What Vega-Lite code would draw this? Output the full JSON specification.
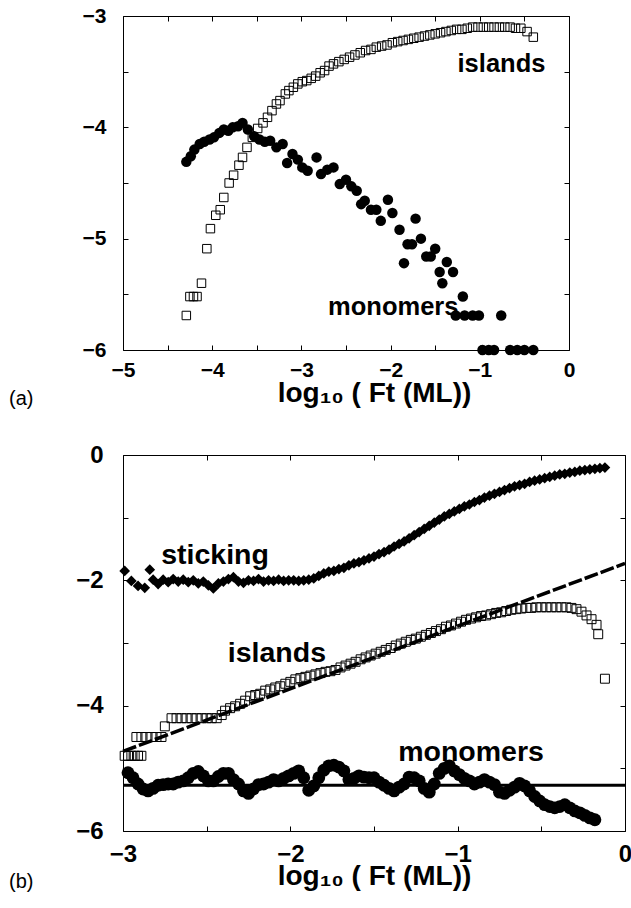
{
  "$schema": "https://vega.github.io/schema/vega-lite/v6.json",
  "background": "white",
  "padding": {"left": 8, "top": 4, "right": 0, "bottom": 0},
  "bounds": "flush",
  "spacing": 105,
  "config": {
    "view": {"stroke": "black", "strokeWidth": 1},
    "font": "Liberation Sans",
    "axis": {"domain": false, "grid": false, "labelFont": "Liberation Sans", "labelFontWeight": "bold", "labelColor": "black", "tickColor": "black", "tickSize": -5, "tickWidth": 1, "titleFont": "Liberation Sans", "titleFontWeight": "bold", "titleColor": "black", "labelFlush": false, "labelOverlap": false, "format": "d"}
  },
  "datasets": {
    "a_islands": [
      {"x": -4.29, "y": -5.69}, {"x": -4.25, "y": -5.52}, {"x": -4.21, "y": -5.52}, {"x": -4.17, "y": -5.52}, {"x": -4.12, "y": -5.40},
      {"x": -4.06, "y": -5.09}, {"x": -4.02, "y": -4.91}, {"x": -3.96, "y": -4.79}, {"x": -3.91, "y": -4.74}, {"x": -3.87, "y": -4.63},
      {"x": -3.81, "y": -4.50}, {"x": -3.76, "y": -4.43}, {"x": -3.70, "y": -4.34}, {"x": -3.66, "y": -4.27}, {"x": -3.61, "y": -4.18},
      {"x": -3.55, "y": -4.09}, {"x": -3.49, "y": -4.01}, {"x": -3.43, "y": -3.96}, {"x": -3.38, "y": -3.91}, {"x": -3.33, "y": -3.85},
      {"x": -3.28, "y": -3.79}, {"x": -3.24, "y": -3.76}, {"x": -3.18, "y": -3.70}, {"x": -3.14, "y": -3.67}, {"x": -3.09, "y": -3.64},
      {"x": -3.04, "y": -3.61}, {"x": -2.99, "y": -3.59}, {"x": -2.94, "y": -3.58}, {"x": -2.89, "y": -3.56}, {"x": -2.84, "y": -3.54},
      {"x": -2.79, "y": -3.51}, {"x": -2.74, "y": -3.49}, {"x": -2.69, "y": -3.45}, {"x": -2.64, "y": -3.43}, {"x": -2.58, "y": -3.41},
      {"x": -2.52, "y": -3.39}, {"x": -2.46, "y": -3.37}, {"x": -2.40, "y": -3.35}, {"x": -2.34, "y": -3.33}, {"x": -2.28, "y": -3.31},
      {"x": -2.22, "y": -3.30}, {"x": -2.16, "y": -3.28}, {"x": -2.10, "y": -3.27}, {"x": -2.04, "y": -3.26}, {"x": -1.98, "y": -3.24},
      {"x": -1.92, "y": -3.23}, {"x": -1.86, "y": -3.22}, {"x": -1.80, "y": -3.21}, {"x": -1.74, "y": -3.20}, {"x": -1.68, "y": -3.19},
      {"x": -1.62, "y": -3.18}, {"x": -1.56, "y": -3.17}, {"x": -1.50, "y": -3.16}, {"x": -1.44, "y": -3.15}, {"x": -1.38, "y": -3.14},
      {"x": -1.32, "y": -3.13}, {"x": -1.26, "y": -3.12}, {"x": -1.20, "y": -3.12}, {"x": -1.14, "y": -3.11}, {"x": -1.08, "y": -3.10},
      {"x": -1.02, "y": -3.10}, {"x": -0.96, "y": -3.10}, {"x": -0.90, "y": -3.10}, {"x": -0.84, "y": -3.10}, {"x": -0.78, "y": -3.10},
      {"x": -0.72, "y": -3.10}, {"x": -0.66, "y": -3.10}, {"x": -0.60, "y": -3.11}, {"x": -0.54, "y": -3.11}, {"x": -0.47, "y": -3.14},
      {"x": -0.40, "y": -3.19}
    ],
    "a_monomers": [
      {"x": -4.29, "y": -4.31}, {"x": -4.24, "y": -4.26}, {"x": -4.20, "y": -4.20}, {"x": -4.14, "y": -4.15}, {"x": -4.09, "y": -4.13},
      {"x": -4.03, "y": -4.11}, {"x": -3.98, "y": -4.09}, {"x": -3.92, "y": -4.05}, {"x": -3.87, "y": -4.02}, {"x": -3.82, "y": -4.03},
      {"x": -3.77, "y": -4.00}, {"x": -3.71, "y": -3.99}, {"x": -3.66, "y": -3.96}, {"x": -3.60, "y": -4.02}, {"x": -3.53, "y": -4.08},
      {"x": -3.47, "y": -4.11}, {"x": -3.41, "y": -4.13}, {"x": -3.35, "y": -4.12}, {"x": -3.28, "y": -4.18}, {"x": -3.21, "y": -4.15},
      {"x": -3.16, "y": -4.32}, {"x": -3.10, "y": -4.24}, {"x": -3.04, "y": -4.29}, {"x": -2.99, "y": -4.36}, {"x": -2.93, "y": -4.39},
      {"x": -2.83, "y": -4.27}, {"x": -2.78, "y": -4.42}, {"x": -2.71, "y": -4.38}, {"x": -2.64, "y": -4.36}, {"x": -2.57, "y": -4.51},
      {"x": -2.50, "y": -4.47}, {"x": -2.44, "y": -4.53}, {"x": -2.38, "y": -4.57}, {"x": -2.33, "y": -4.69}, {"x": -2.29, "y": -4.66},
      {"x": -2.22, "y": -4.74}, {"x": -2.16, "y": -4.74}, {"x": -2.11, "y": -4.84}, {"x": -2.03, "y": -4.65}, {"x": -1.98, "y": -4.77},
      {"x": -1.90, "y": -4.92}, {"x": -1.85, "y": -5.22}, {"x": -1.81, "y": -5.05}, {"x": -1.76, "y": -5.05}, {"x": -1.72, "y": -4.82},
      {"x": -1.66, "y": -5.00}, {"x": -1.60, "y": -5.16}, {"x": -1.55, "y": -5.16}, {"x": -1.50, "y": -5.09}, {"x": -1.45, "y": -5.30},
      {"x": -1.42, "y": -5.40}, {"x": -1.37, "y": -5.21}, {"x": -1.30, "y": -5.30}, {"x": -1.19, "y": -5.52}, {"x": -1.27, "y": -5.69},
      {"x": -1.17, "y": -5.69}, {"x": -1.08, "y": -5.69}, {"x": -1.01, "y": -5.69}, {"x": -0.76, "y": -5.69}, {"x": -0.97, "y": -6.0},
      {"x": -0.90, "y": -6.0}, {"x": -0.84, "y": -6.0}, {"x": -0.66, "y": -6.0}, {"x": -0.58, "y": -6.0}, {"x": -0.50, "y": -6.0},
      {"x": -0.40, "y": -6.0}
    ],
    "a_labels": [
      {"x": -0.757, "y": -3.50, "label": "islands"},
      {"x": -1.97, "y": -5.69, "label": "monomers"}
    ],
    "b_sticking": [
      {"x": -2.99, "y": -1.85}, {"x": -2.95, "y": -2.01}, {"x": -2.91, "y": -2.09}, {"x": -2.87, "y": -2.12}, {"x": -2.84, "y": -1.83},
      {"x": -2.82, "y": -1.99}, {"x": -2.79, "y": -2.06}, {"x": -2.76, "y": -1.99}, {"x": -2.73, "y": -2.03}, {"x": -2.70, "y": -1.98},
      {"x": -2.67, "y": -2.02}, {"x": -2.64, "y": -1.99}, {"x": -2.61, "y": -2.03}, {"x": -2.58, "y": -2.00}, {"x": -2.55, "y": -2.05},
      {"x": -2.52, "y": -2.02}, {"x": -2.49, "y": -2.08}, {"x": -2.46, "y": -2.13}, {"x": -2.43, "y": -2.05}, {"x": -2.40, "y": -2.02},
      {"x": -2.37, "y": -1.98}, {"x": -2.34, "y": -1.95}, {"x": -2.31, "y": -2.02}, {"x": -2.28, "y": -2.04}, {"x": -2.25, "y": -2.00},
      {"x": -2.22, "y": -2.01}, {"x": -2.19, "y": -1.98}, {"x": -2.16, "y": -2.02}, {"x": -2.13, "y": -2.00}, {"x": -2.10, "y": -2.01},
      {"x": -2.07, "y": -1.99}, {"x": -2.04, "y": -2.01}, {"x": -2.01, "y": -2.00}, {"x": -1.98, "y": -2.00}, {"x": -1.95, "y": -2.01},
      {"x": -1.92, "y": -2.00}, {"x": -1.89, "y": -1.99}, {"x": -1.86, "y": -1.97}, {"x": -1.83, "y": -1.93}, {"x": -1.80, "y": -1.89},
      {"x": -1.77, "y": -1.86}, {"x": -1.74, "y": -1.85}, {"x": -1.71, "y": -1.82}, {"x": -1.68, "y": -1.80}, {"x": -1.65, "y": -1.76},
      {"x": -1.62, "y": -1.73}, {"x": -1.59, "y": -1.71}, {"x": -1.56, "y": -1.68}, {"x": -1.53, "y": -1.65}, {"x": -1.50, "y": -1.62},
      {"x": -1.47, "y": -1.58}, {"x": -1.44, "y": -1.55}, {"x": -1.41, "y": -1.51}, {"x": -1.38, "y": -1.46}, {"x": -1.35, "y": -1.42},
      {"x": -1.32, "y": -1.38}, {"x": -1.29, "y": -1.33}, {"x": -1.26, "y": -1.28}, {"x": -1.23, "y": -1.23}, {"x": -1.20, "y": -1.18},
      {"x": -1.17, "y": -1.13}, {"x": -1.14, "y": -1.08}, {"x": -1.11, "y": -1.03}, {"x": -1.08, "y": -0.98}, {"x": -1.05, "y": -0.94},
      {"x": -1.02, "y": -0.90}, {"x": -0.99, "y": -0.86}, {"x": -0.96, "y": -0.82}, {"x": -0.93, "y": -0.79}, {"x": -0.90, "y": -0.75},
      {"x": -0.87, "y": -0.72}, {"x": -0.84, "y": -0.68}, {"x": -0.81, "y": -0.65}, {"x": -0.78, "y": -0.62}, {"x": -0.75, "y": -0.59},
      {"x": -0.72, "y": -0.56}, {"x": -0.69, "y": -0.53}, {"x": -0.66, "y": -0.50}, {"x": -0.63, "y": -0.48}, {"x": -0.60, "y": -0.46},
      {"x": -0.57, "y": -0.43}, {"x": -0.54, "y": -0.41}, {"x": -0.51, "y": -0.39}, {"x": -0.48, "y": -0.37}, {"x": -0.45, "y": -0.35},
      {"x": -0.42, "y": -0.33}, {"x": -0.39, "y": -0.31}, {"x": -0.36, "y": -0.30}, {"x": -0.33, "y": -0.28}, {"x": -0.30, "y": -0.27},
      {"x": -0.27, "y": -0.25}, {"x": -0.24, "y": -0.24}, {"x": -0.21, "y": -0.23}, {"x": -0.18, "y": -0.22}, {"x": -0.15, "y": -0.21},
      {"x": -0.12, "y": -0.20}
    ],
    "b_islands": [
      {"x": -2.99, "y": -4.80}, {"x": -2.97, "y": -4.80}, {"x": -2.95, "y": -4.80}, {"x": -2.93, "y": -4.80}, {"x": -2.91, "y": -4.80},
      {"x": -2.89, "y": -4.80}, {"x": -2.92, "y": -4.50}, {"x": -2.89, "y": -4.50}, {"x": -2.86, "y": -4.50}, {"x": -2.83, "y": -4.50},
      {"x": -2.80, "y": -4.50}, {"x": -2.77, "y": -4.50}, {"x": -2.75, "y": -4.33}, {"x": -2.71, "y": -4.20}, {"x": -2.68, "y": -4.20},
      {"x": -2.65, "y": -4.20}, {"x": -2.62, "y": -4.20}, {"x": -2.59, "y": -4.20}, {"x": -2.56, "y": -4.20}, {"x": -2.53, "y": -4.20},
      {"x": -2.50, "y": -4.20}, {"x": -2.47, "y": -4.20}, {"x": -2.44, "y": -4.20}, {"x": -2.41, "y": -4.15}, {"x": -2.39, "y": -4.08},
      {"x": -2.36, "y": -4.04}, {"x": -2.33, "y": -4.01}, {"x": -2.30, "y": -3.97}, {"x": -2.27, "y": -3.92}, {"x": -2.24, "y": -3.85},
      {"x": -2.21, "y": -3.83}, {"x": -2.18, "y": -3.81}, {"x": -2.15, "y": -3.76}, {"x": -2.12, "y": -3.74}, {"x": -2.09, "y": -3.71},
      {"x": -2.06, "y": -3.69}, {"x": -2.03, "y": -3.65}, {"x": -2.00, "y": -3.62}, {"x": -1.97, "y": -3.58}, {"x": -1.94, "y": -3.56},
      {"x": -1.91, "y": -3.54}, {"x": -1.88, "y": -3.52}, {"x": -1.85, "y": -3.50}, {"x": -1.82, "y": -3.48}, {"x": -1.79, "y": -3.46},
      {"x": -1.76, "y": -3.45}, {"x": -1.73, "y": -3.43}, {"x": -1.70, "y": -3.39}, {"x": -1.67, "y": -3.36}, {"x": -1.64, "y": -3.33},
      {"x": -1.61, "y": -3.30}, {"x": -1.58, "y": -3.26}, {"x": -1.55, "y": -3.23}, {"x": -1.52, "y": -3.20}, {"x": -1.49, "y": -3.17},
      {"x": -1.46, "y": -3.14}, {"x": -1.43, "y": -3.11}, {"x": -1.40, "y": -3.08}, {"x": -1.37, "y": -3.04}, {"x": -1.34, "y": -3.01},
      {"x": -1.31, "y": -2.98}, {"x": -1.28, "y": -2.95}, {"x": -1.25, "y": -2.93}, {"x": -1.22, "y": -2.90}, {"x": -1.19, "y": -2.87},
      {"x": -1.16, "y": -2.84}, {"x": -1.13, "y": -2.81}, {"x": -1.10, "y": -2.78}, {"x": -1.07, "y": -2.74}, {"x": -1.04, "y": -2.72},
      {"x": -1.01, "y": -2.69}, {"x": -0.98, "y": -2.66}, {"x": -0.95, "y": -2.63}, {"x": -0.92, "y": -2.61}, {"x": -0.89, "y": -2.59},
      {"x": -0.86, "y": -2.57}, {"x": -0.83, "y": -2.56}, {"x": -0.80, "y": -2.54}, {"x": -0.77, "y": -2.52}, {"x": -0.74, "y": -2.51},
      {"x": -0.71, "y": -2.49}, {"x": -0.68, "y": -2.47}, {"x": -0.65, "y": -2.46}, {"x": -0.62, "y": -2.45}, {"x": -0.59, "y": -2.44},
      {"x": -0.56, "y": -2.44}, {"x": -0.53, "y": -2.43}, {"x": -0.50, "y": -2.43}, {"x": -0.47, "y": -2.43}, {"x": -0.44, "y": -2.43},
      {"x": -0.41, "y": -2.43}, {"x": -0.38, "y": -2.43}, {"x": -0.35, "y": -2.43}, {"x": -0.32, "y": -2.44}, {"x": -0.29, "y": -2.46},
      {"x": -0.26, "y": -2.50}, {"x": -0.23, "y": -2.56}, {"x": -0.20, "y": -2.62}, {"x": -0.17, "y": -2.71}, {"x": -0.16, "y": -2.86},
      {"x": -0.12, "y": -3.57}
    ],
    "b_monomers": [
      {"x": -2.97, "y": -5.07}, {"x": -2.94, "y": -5.15}, {"x": -2.91, "y": -5.25}, {"x": -2.88, "y": -5.33}, {"x": -2.85, "y": -5.36},
      {"x": -2.82, "y": -5.32}, {"x": -2.79, "y": -5.27}, {"x": -2.76, "y": -5.26}, {"x": -2.73, "y": -5.25}, {"x": -2.70, "y": -5.25},
      {"x": -2.67, "y": -5.22}, {"x": -2.64, "y": -5.20}, {"x": -2.61, "y": -5.15}, {"x": -2.58, "y": -5.08}, {"x": -2.55, "y": -5.05},
      {"x": -2.52, "y": -5.12}, {"x": -2.49, "y": -5.20}, {"x": -2.46, "y": -5.20}, {"x": -2.43, "y": -5.13}, {"x": -2.40, "y": -5.08},
      {"x": -2.37, "y": -5.08}, {"x": -2.34, "y": -5.18}, {"x": -2.31, "y": -5.25}, {"x": -2.28, "y": -5.36}, {"x": -2.25, "y": -5.40},
      {"x": -2.22, "y": -5.33}, {"x": -2.19, "y": -5.26}, {"x": -2.16, "y": -5.25}, {"x": -2.13, "y": -5.22}, {"x": -2.10, "y": -5.18},
      {"x": -2.07, "y": -5.20}, {"x": -2.04, "y": -5.16}, {"x": -2.01, "y": -5.12}, {"x": -1.98, "y": -5.08}, {"x": -1.95, "y": -5.04},
      {"x": -1.92, "y": -5.15}, {"x": -1.89, "y": -5.35}, {"x": -1.86, "y": -5.28}, {"x": -1.83, "y": -5.15}, {"x": -1.80, "y": -5.03},
      {"x": -1.77, "y": -4.96}, {"x": -1.74, "y": -4.95}, {"x": -1.71, "y": -4.98}, {"x": -1.68, "y": -5.04}, {"x": -1.65, "y": -5.18},
      {"x": -1.62, "y": -5.16}, {"x": -1.59, "y": -5.12}, {"x": -1.56, "y": -5.14}, {"x": -1.53, "y": -5.15}, {"x": -1.50, "y": -5.15},
      {"x": -1.47, "y": -5.22}, {"x": -1.44, "y": -5.27}, {"x": -1.41, "y": -5.32}, {"x": -1.38, "y": -5.36}, {"x": -1.35, "y": -5.30},
      {"x": -1.32, "y": -5.25}, {"x": -1.29, "y": -5.14}, {"x": -1.26, "y": -5.15}, {"x": -1.23, "y": -5.20}, {"x": -1.20, "y": -5.32},
      {"x": -1.17, "y": -5.38}, {"x": -1.14, "y": -5.25}, {"x": -1.11, "y": -5.08}, {"x": -1.08, "y": -5.00}, {"x": -1.05, "y": -4.96},
      {"x": -1.02, "y": -5.04}, {"x": -0.99, "y": -5.10}, {"x": -0.96, "y": -5.16}, {"x": -0.93, "y": -5.20}, {"x": -0.90, "y": -5.25},
      {"x": -0.87, "y": -5.22}, {"x": -0.84, "y": -5.18}, {"x": -0.81, "y": -5.22}, {"x": -0.78, "y": -5.26}, {"x": -0.75, "y": -5.38},
      {"x": -0.72, "y": -5.40}, {"x": -0.69, "y": -5.35}, {"x": -0.66, "y": -5.30}, {"x": -0.63, "y": -5.24}, {"x": -0.60, "y": -5.28},
      {"x": -0.57, "y": -5.36}, {"x": -0.54, "y": -5.45}, {"x": -0.51, "y": -5.52}, {"x": -0.48, "y": -5.58}, {"x": -0.45, "y": -5.61},
      {"x": -0.42, "y": -5.63}, {"x": -0.39, "y": -5.61}, {"x": -0.36, "y": -5.58}, {"x": -0.33, "y": -5.63}, {"x": -0.30, "y": -5.68},
      {"x": -0.27, "y": -5.71}, {"x": -0.24, "y": -5.75}, {"x": -0.21, "y": -5.79}, {"x": -0.18, "y": -5.82}
    ],
    "b_fit": [{"x": -3.0, "y": -4.73}, {"x": 0.0, "y": -1.73}],
    "b_flat": [{"x": -3.0, "y": -5.27}, {"x": 0.0, "y": -5.27}],
    "b_labels": [
      {"x": -2.45, "y": -1.74, "label": "sticking"},
      {"x": -2.08, "y": -3.30, "label": "islands"},
      {"x": -0.92, "y": -4.88, "label": "monomers"}
    ]
  },
  "vconcat": [
    {
      "width": 446,
      "height": 334,
      "title": {"text": "(a)", "orient": "bottom", "anchor": "start", "frame": "group", "dx": -114, "dy": -18, "offset": 0, "fontSize": 20, "fontWeight": "normal", "font": "Liberation Sans", "color": "black"},
      "layer": [
        {
          "data": {"name": "a_islands"},
          "mark": {"type": "point", "shape": "square", "filled": false, "stroke": "black", "strokeWidth": 1, "size": 72, "opacity": 1},
          "encoding": {
            "x": {"field": "x", "type": "quantitative", "scale": {"domain": [-5, 0], "nice": false, "zero": false},
              "axis": {"orient": "bottom", "values": [-5, -4.5, -4, -3.5, -3, -2.5, -2, -1.5, -1, -0.5, 0], "labelExpr": "datum.value % 1 == 0 ? datum.label : ''", "labelFontSize": 21, "labelPadding": 14, "title": "log₁₀ ( Ft (ML))", "titleFontSize": 28, "titleX": 251, "titleY": 51, "titleBaseline": "alphabetic", "titleAlign": "center"}},
            "y": {"field": "y", "type": "quantitative", "scale": {"domain": [-6, -3], "nice": false, "zero": false},
              "axis": {"orient": "left", "values": [-6, -5.5, -5, -4.5, -4, -3.5, -3], "labelExpr": "datum.value % 1 == 0 ? datum.label : ''", "labelFontSize": 21, "labelPadding": 22, "title": null}}
          }
        },
        {
          "data": {"name": "a_monomers"},
          "mark": {"type": "circle", "size": 110, "color": "black", "opacity": 1},
          "encoding": {
            "x": {"field": "x", "type": "quantitative", "axis": null},
            "y": {"field": "y", "type": "quantitative", "axis": null}
          }
        },
        {
          "data": {"name": "a_labels"},
          "mark": {"type": "text", "font": "Liberation Sans", "fontSize": 25.5, "fontWeight": "bold", "align": "center", "baseline": "alphabetic", "color": "black"},
          "encoding": {
            "x": {"field": "x", "type": "quantitative",
              "axis": {"orient": "top", "values": [-5, -4.5, -4, -3.5, -3, -2.5, -2, -1.5, -1, -0.5, 0], "labels": false, "title": null}},
            "y": {"field": "y", "type": "quantitative",
              "axis": {"orient": "right", "values": [-6, -5.5, -5, -4.5, -4, -3.5, -3], "labels": false, "title": null}},
            "text": {"field": "label", "type": "nominal"}
          }
        }
      ],
      "resolve": {"axis": {"x": "independent", "y": "independent"}}
    },
    {
      "width": 502,
      "height": 376,
      "title": {"text": "(b)", "orient": "bottom", "anchor": "start", "frame": "group", "dx": -114, "dy": -18, "offset": 0, "fontSize": 20, "fontWeight": "normal", "font": "Liberation Sans", "color": "black"},
      "layer": [
        {
          "data": {"name": "b_islands"},
          "mark": {"type": "point", "shape": "square", "filled": false, "stroke": "black", "strokeWidth": 1, "size": 80, "opacity": 1},
          "encoding": {
            "x": {"field": "x", "type": "quantitative", "scale": {"domain": [-3, 0], "nice": false, "zero": false},
              "axis": {"orient": "bottom", "values": [-3, -2.5, -2, -1.5, -1, -0.5, 0], "labelExpr": "datum.value % 1 == 0 ? datum.label : ''", "labelFontSize": 24, "labelPadding": 16, "title": "log₁₀ ( Ft (ML))", "titleFontSize": 28, "titleX": 251, "titleY": 53, "titleBaseline": "alphabetic", "titleAlign": "center"}},
            "y": {"field": "y", "type": "quantitative", "scale": {"domain": [-6, 0], "nice": false, "zero": false},
              "axis": {"orient": "left", "values": [-6, -5, -4, -3, -2, -1, 0], "labelExpr": "datum.value % 2 == 0 ? datum.label : ''", "labelFontSize": 24, "labelPadding": 25, "title": null}}
          }
        },
        {
          "data": {"name": "b_monomers"},
          "mark": {"type": "circle", "size": 165, "color": "black", "opacity": 1},
          "encoding": {
            "x": {"field": "x", "type": "quantitative", "axis": null},
            "y": {"field": "y", "type": "quantitative", "axis": null}
          }
        },
        {
          "data": {"name": "b_sticking"},
          "mark": {"type": "point", "shape": "diamond", "filled": true, "size": 115, "color": "black", "opacity": 1},
          "encoding": {
            "x": {"field": "x", "type": "quantitative", "axis": null},
            "y": {"field": "y", "type": "quantitative", "axis": null}
          }
        },
        {
          "data": {"name": "b_fit"},
          "mark": {"type": "line", "color": "black", "strokeWidth": 3.5, "strokeDash": [14, 3]},
          "encoding": {
            "x": {"field": "x", "type": "quantitative", "axis": null},
            "y": {"field": "y", "type": "quantitative", "axis": null}
          }
        },
        {
          "data": {"name": "b_flat"},
          "mark": {"type": "line", "color": "black", "strokeWidth": 3},
          "encoding": {
            "x": {"field": "x", "type": "quantitative", "axis": null},
            "y": {"field": "y", "type": "quantitative", "axis": null}
          }
        },
        {
          "data": {"name": "b_labels"},
          "mark": {"type": "text", "font": "Liberation Sans", "fontSize": 28.5, "fontWeight": "bold", "align": "center", "baseline": "alphabetic", "color": "black"},
          "encoding": {
            "x": {"field": "x", "type": "quantitative",
              "axis": {"orient": "top", "values": [-3, -2.5, -2, -1.5, -1, -0.5, 0], "labels": false, "title": null}},
            "y": {"field": "y", "type": "quantitative",
              "axis": {"orient": "right", "values": [-6, -5, -4, -3, -2, -1, 0], "labels": false, "title": null}},
            "text": {"field": "label", "type": "nominal"}
          }
        }
      ],
      "resolve": {"axis": {"x": "independent", "y": "independent"}}
    }
  ]
}
